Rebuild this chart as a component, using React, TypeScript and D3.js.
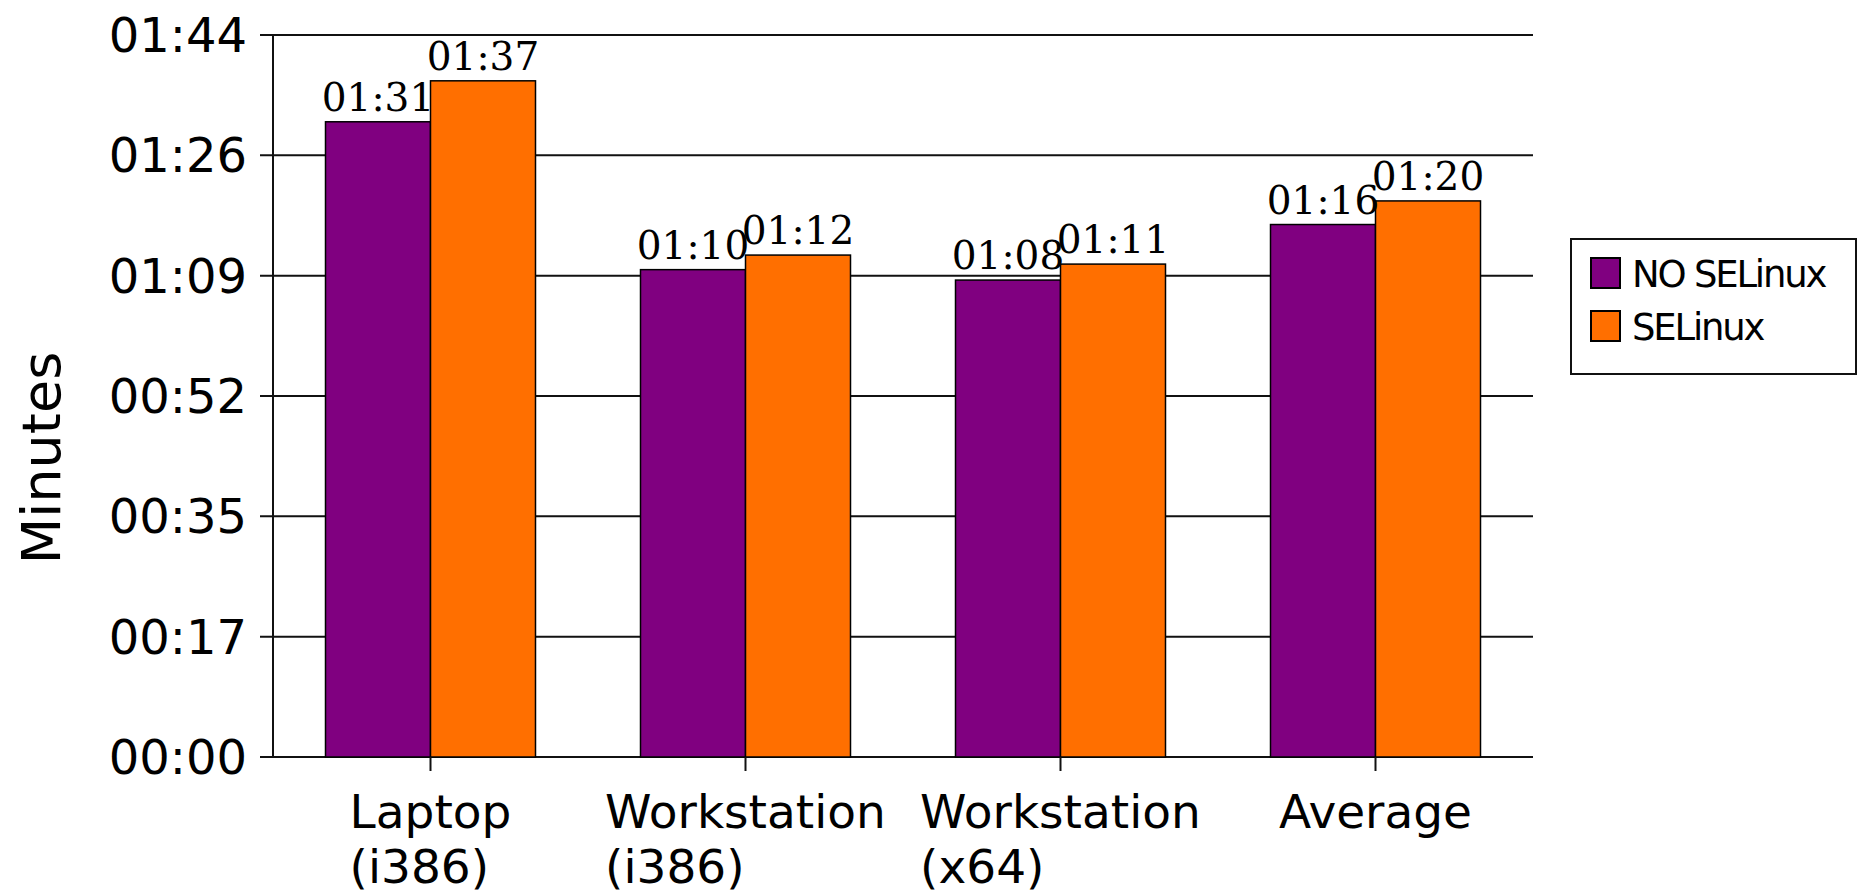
import React from "react";
import * as d3 from "d3";

const categories = ["Laptop (i386)", "Workstation (i386)", "Workstation (x64)", "Average"];
const categoryLines = [["Laptop", "(i386)"], ["Workstation", "(i386)"], ["Workstation", "(x64)"], ["Average"]];
const seriesNames = ["NO SELinux", "SELinux"];
const noSelinux = [91.5, 70.2, 68.7, 76.7]; // seconds
const selinux = [97.4, 72.3, 71.0, 80.1];
const noSelinuxLabels = ["01:31", "01:10", "01:08", "01:16"];
const selinuxLabels = ["01:37", "01:12", "01:11", "01:20"];
const yMax = 104;
const yTickLabels = ["00:00", "00:17", "00:35", "00:52", "01:09", "01:26", "01:44"];
const colors = ["#800080", "#ff6f00"];

const W = 1858, H = 896;
const left = 273, right = 1533, top = 35, bottom = 757;

function measure(text: string, font: string) {
  const c = document.createElement("canvas").getContext("2d")!;
  c.font = font;
  return c.measureText(text).width;
}

export default function App() {
  const y = d3.scaleLinear().domain([0, yMax]).range([bottom, top]);
  const x0 = d3.scaleBand<string>().domain(categories).range([left, right]).padding(0);
  const x1 = d3.scaleBand<string>().domain(seriesNames).range([0, x0.bandwidth()]).paddingInner(0).paddingOuter(0.5);
  const ticks = yTickLabels.map((_, i) => (i * yMax) / (yTickLabels.length - 1));
  const series = [
    { name: seriesNames[0], values: noSelinux, labels: noSelinuxLabels, color: colors[0] },
    { name: seriesNames[1], values: selinux, labels: selinuxLabels, color: colors[1] },
  ];
  const xFont = "47px 'DejaVu Sans'";

  return (
    <svg width={W} height={H} style={{ position: "absolute", left: 0, top: 0, display: "block", background: "#fff" }}>
      <rect x={0} y={0} width={W} height={H} fill="#fff" />
      {/* gridlines */}
      {ticks.map((t, i) => (
        <line key={"g" + i} x1={260} x2={right} y1={y(t)} y2={y(t)} stroke="#111" strokeWidth={2} />
      ))}
      {/* y axis */}
      <line x1={left} x2={left} y1={top} y2={bottom} stroke="#111" strokeWidth={2} />
      {/* y tick labels */}
      {ticks.map((t, i) => (
        <text key={"yl" + i} x={247} y={y(t) + 17} textAnchor="end" fontFamily="DejaVu Sans" fontSize={48} fill="#000">
          {yTickLabels[i]}
        </text>
      ))}
      {/* bars */}
      {series.map((s) =>
        categories.map((c, i) => (
          <rect
            key={s.name + c}
            x={(x0(c) as number) + (x1(s.name) as number)}
            y={y(s.values[i])}
            width={x1.bandwidth()}
            height={bottom - y(s.values[i])}
            fill={s.color}
            stroke="#000"
            strokeWidth={1.5}
          />
        ))
      )}
      {/* data labels */}
      {series.map((s) =>
        categories.map((c, i) => (
          <text
            key={"dl" + s.name + c}
            x={(x0(c) as number) + (x1(s.name) as number) + x1.bandwidth() / 2}
            y={y(s.values[i]) - 11}
            textAnchor="middle"
            fontFamily="DejaVu Serif"
            fontSize={39}
            fill="#000"
          >
            {s.labels[i]}
          </text>
        ))
      )}
      {/* x axis ticks */}
      {categories.map((c) => {
        const cx = (x0(c) as number) + x0.bandwidth() / 2;
        return <line key={"xt" + c} x1={cx} x2={cx} y1={bottom} y2={bottom + 14} stroke="#111" strokeWidth={2} />;
      })}
      {/* x labels */}
      {categories.map((c, i) => {
        const cx = (x0(c) as number) + x0.bandwidth() / 2;
        const lines = categoryLines[i];
        const wMax = Math.max(...lines.map((l) => measure(l, xFont)));
        return (
          <text key={"xl" + c} fontFamily="DejaVu Sans" fontSize={47} fill="#000">
            {lines.map((l, j) => (
              <tspan key={j} x={cx - wMax / 2} y={828 + j * 55}>
                {l}
              </tspan>
            ))}
          </text>
        );
      })}
      {/* y title */}
      <text
        transform="translate(60,458) rotate(-90)"
        textAnchor="middle"
        fontFamily="DejaVu Sans"
        fontSize={54}
        fill="#000"
      >
        Minutes
      </text>
      {/* legend */}
      <rect x={1571} y={239} width={285} height={135} fill="#fff" stroke="#111" strokeWidth={2} />
      {series.map((s, i) => (
        <g key={"lg" + s.name}>
          <rect x={1591} y={258 + i * 53} width={29} height={30} fill={s.color} stroke="#000" strokeWidth={2} />
          <text x={1632} y={287 + i * 53} fontFamily="DejaVu Sans" fontSize={37} letterSpacing={-2.2} fill="#000">
            {s.name}
          </text>
        </g>
      ))}
    </svg>
  );
}
